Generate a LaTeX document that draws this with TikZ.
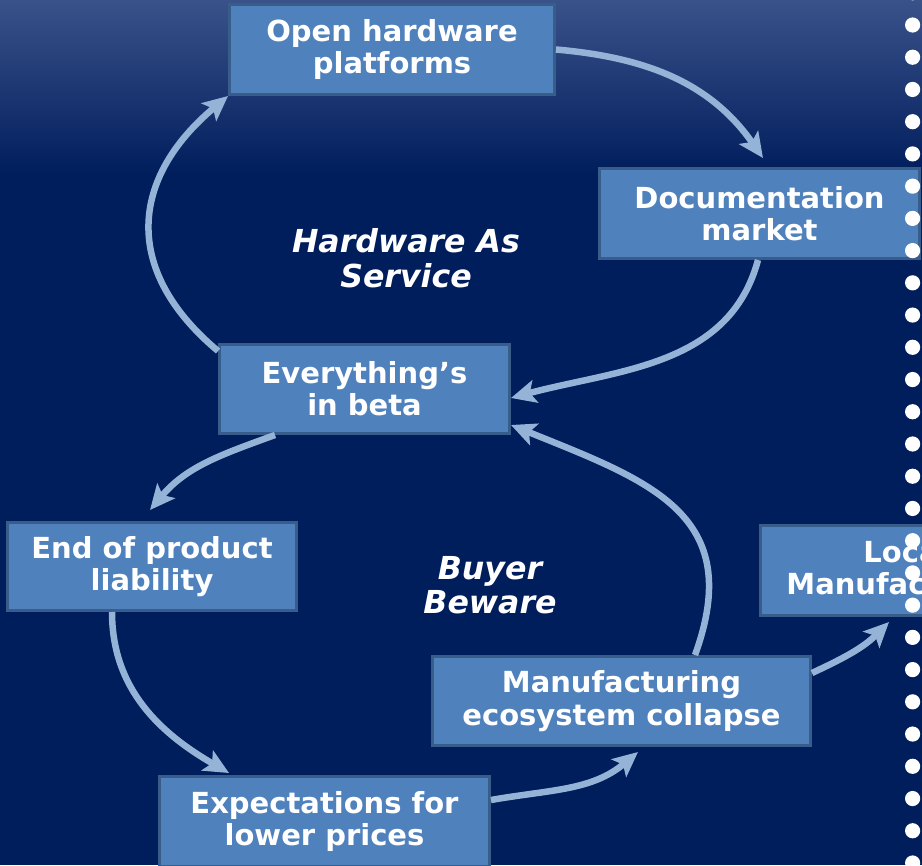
\documentclass[tikz,border=0pt]{standalone}
\usepackage{fontspec}
\setmainfont{DejaVu Sans}
\usepackage{tikz}
\usetikzlibrary{arrows.meta}
\definecolor{navy}{RGB}{0,29,92}
\definecolor{navytop}{RGB}{58,82,138}
\definecolor{boxfill}{RGB}{79,129,189}
\definecolor{boxedge}{RGB}{56,93,138}
\definecolor{flow}{RGB}{149,179,215}

\begin{document}
\begin{tikzpicture}[x=0.02cm, y=-0.02cm,
  box/.style={rectangle, draw=boxedge, fill=boxfill, line width=0.06cm,
              inner sep=0pt, text=white, align=center,
              font=\fontsize{16.5}{18.4}\selectfont\bfseries},
  note/.style={text=white, align=center,
               font=\fontsize{18}{19.6}\selectfont\bfseries\itshape},
  a/.style={-{Stealth[length=0.5cm, width=0.46cm, inset=0.11cm]},
            draw=flow, line width=0.13cm}]
  \useasboundingbox (0,0) rectangle (922,865);
  \clip (0,0) rectangle (922,865);
  % background
  \fill[navy] (0,0) rectangle (922,865);
  \fill[top color=navytop, bottom color=navy] (0,0) rectangle (922,175);

  \node[box, minimum width=6.5cm, minimum height=1.8cm] (open) at (392,49.5) {Open hardware\\platforms};
  \node[box, minimum width=6.42cm, minimum height=1.8cm] (doc) at (759.5,213.5) {Documentation\\market};
  \node[box, minimum width=5.8cm, minimum height=1.78cm] (beta) at (364.5,389) {Everything’s\\in beta};
  \node[box, minimum width=5.78cm, minimum height=1.76cm] (endl) at (152,566.5) {End of product\\liability};
  \node[box, minimum width=5.82cm, minimum height=1.8cm] (local) at (906,570.5) {Local\\Manufacturing};
  \node[box, minimum width=7.56cm, minimum height=1.78cm] (manuf) at (621.5,701) {Manufacturing\\ecosystem collapse};
  \node[box, minimum width=6.6cm, minimum height=1.8cm] (expect) at (324.5,821.5) {Expectations for\\lower prices};

  \node[note] (has) at (406,258) {Hardware As\\Service};
  \node[note] (buyer) at (490,585) {Buyer\\Beware};

  % upper loop
  \draw[a] (open.east) to[out=-5, in=125] ([xshift=0.07cm, yshift=0.18cm]doc.north);
  \draw[a] ([xshift=-0.03cm]doc.south) to[out=-105, in=15] ([yshift=-0.18cm]beta.east);
  \draw[a] ([yshift=-0.16cm]beta.north west) to[out=140, in=-140, looseness=1.27] (open.south west);
  % lower loop
  \draw[a] ([xshift=-1.79cm]beta.south) to[out=200, in=50] ([xshift=-0.04cm, yshift=0.22cm]endl.north);
  \draw[a] ([xshift=-0.8cm]endl.south) to[out=-90, in=150] ([xshift=1.42cm, yshift=0.04cm]expect.north west);
  \draw[a] ([yshift=0.43cm]expect.east) to[out=10, in=-140] ([xshift=0.33cm, yshift=-0.1cm]manuf.south);
  \draw[a] ([xshift=1.47cm]manuf.north) to[out=70, in=-22, looseness=1.3] ([yshift=0.2cm]beta.south east);
  \draw[a] ([yshift=0.56cm]manuf.east) to[out=25, in=-135] ([xshift=-0.34cm, yshift=-0.1cm]local.south);

  % bullet column
  \foreach \i in {-1,...,26}
    \fill[white] (912.6,{25+32.23*\i}) circle[radius=0.152cm];
\end{tikzpicture}
\end{document}
